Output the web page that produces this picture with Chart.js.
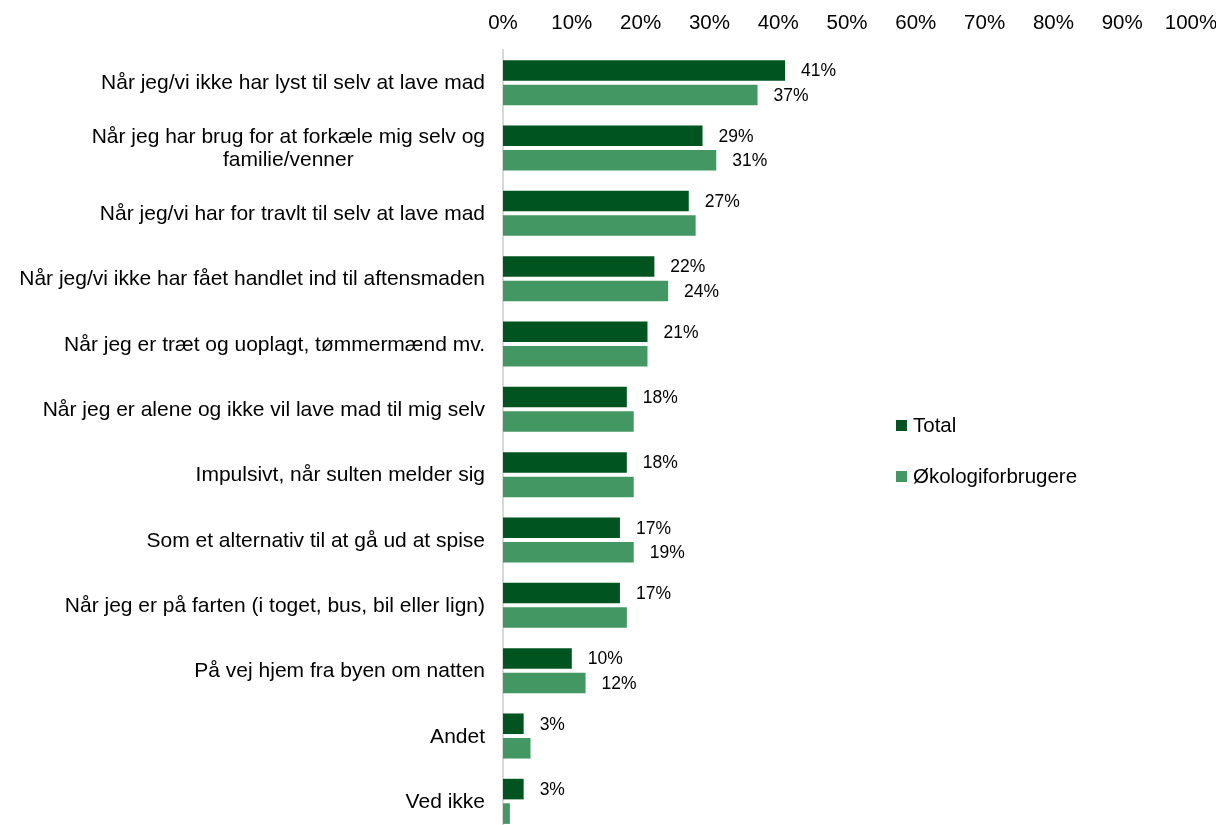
<!DOCTYPE html>
<html>
<head>
<meta charset="utf-8">
<script src="https://cdn.jsdelivr.net/npm/chart.js@4/dist/chart.umd.min.js"></script>
<style>
  html, body { margin: 0; padding: 0; background: #fff; overflow: hidden; }
  #wrap { position: relative; width: 1216px; height: 850px; }
</style>
</head>
<body>
<div id="wrap"><canvas id="takeawayChart"></canvas></div>
<script>
const categories = [
  'Når jeg/vi ikke har lyst til selv at lave mad',
  ['Når jeg har brug for at forkæle mig selv og', 'familie/venner'],
  'Når jeg/vi har for travlt til selv at lave mad',
  'Når jeg/vi ikke har fået handlet ind til aftensmaden',
  'Når jeg er træt og uoplagt, tømmermænd mv.',
  'Når jeg er alene og ikke vil lave mad til mig selv',
  'Impulsivt, når sulten melder sig',
  'Som et alternativ til at gå ud at spise',
  'Når jeg er på farten (i toget, bus, bil eller lign)',
  'På vej hjem fra byen om natten',
  'Andet',
  'Ved ikke'
];
const seriesNames = ['Total', 'Økologiforbrugere'];
const totalValues = [41, 29, 27, 22, 21, 18, 18, 17, 17, 10, 3, 3];
const okoValues = [37, 31, 28, 24, 21, 19, 19, 19, 18, 12, 4, 1];
// which bars carry a value label
const totalShowLabel = [true, true, true, true, true, true, true, true, true, true, true, true];
const okoShowLabel = [true, true, false, true, false, false, false, true, false, true, false, false];
const xMin = 0, xMax = 100, xStep = 10;

const FONT = '"Liberation Sans", Arial, sans-serif';
const TEXT = '#000000';

// value labels to the right of each bar
const valueLabels = {
  id: 'valueLabels',
  afterDatasetsDraw(chart) {
    const ctx = chart.ctx;
    ctx.save();
    ctx.font = '17.5px ' + FONT;
    ctx.fillStyle = TEXT;
    ctx.textAlign = 'left';
    ctx.textBaseline = 'middle';
    chart.data.datasets.forEach((ds, di) => {
      const meta = chart.getDatasetMeta(di);
      meta.data.forEach((bar, i) => {
        if (!ds.showLabel[i]) return;
        ctx.fillText(ds.data[i] + '%', bar.x + 16, bar.y + 1);
      });
    });
    ctx.restore();
  }
};

// category labels: block right aligned, wrapped lines centred inside it
const categoryLabels = {
  id: 'categoryLabels',
  afterDraw(chart) {
    const ctx = chart.ctx;
    const y = chart.scales.y;
    ctx.save();
    ctx.font = '21px ' + FONT;
    ctx.fillStyle = TEXT;
    ctx.textBaseline = 'middle';
    const right = y.right - 18;
    const lh = 23;
    chart.data.labels.forEach((lbl, i) => {
      const lines = Array.isArray(lbl) ? lbl : [lbl];
      const py = y.getPixelForTick(i) + 1;
      const widest = Math.max(...lines.map(l => ctx.measureText(l).width));
      ctx.textAlign = lines.length > 1 ? 'center' : 'right';
      const x = lines.length > 1 ? right - widest / 2 : right;
      const top = py - (lines.length - 1) * lh / 2;
      lines.forEach((l, k) => ctx.fillText(l, x, top + k * lh));
    });
    ctx.restore();
  }
};

// legend on the right, stacked vertically
const sideLegend = {
  id: 'sideLegend',
  afterDraw(chart) {
    const ctx = chart.ctx;
    ctx.save();
    ctx.font = '20.5px ' + FONT;
    ctx.textBaseline = 'middle';
    ctx.textAlign = 'left';
    const x = 896, y0 = 425, gap = 51;
    chart.data.datasets.forEach((ds, i) => {
      const y = y0 + i * gap;
      ctx.fillStyle = ds.backgroundColor;
      ctx.fillRect(x, y - 5, 11, 11);
      ctx.fillStyle = TEXT;
      ctx.fillText(ds.label, x + 17, y + 1);
    });
    ctx.restore();
  }
};

new Chart(document.getElementById('takeawayChart'), {
  type: 'bar',
  data: {
    labels: categories,
    datasets: [
      {
        label: seriesNames[0],
        data: totalValues,
        showLabel: totalShowLabel,
        backgroundColor: '#00541f',
        categoryPercentage: 0.75,
        barPercentage: 0.84
      },
      {
        label: seriesNames[1],
        data: okoValues,
        showLabel: okoShowLabel,
        backgroundColor: '#439763',
        categoryPercentage: 0.75,
        barPercentage: 0.84
      }
    ]
  },
  options: {
    indexAxis: 'y',
    responsive: true,
    maintainAspectRatio: false,
    animation: false,
    layout: { padding: { left: 0, right: 0, top: 0, bottom: 16 } },
    plugins: { legend: { display: false }, tooltip: { enabled: false } },
    scales: {
      x: {
        position: 'top',
        min: xMin,
        max: xMax,
        grid: { display: false },
        border: { display: false },
        ticks: {
          stepSize: xStep,
          padding: 6,
          color: TEXT,
          font: { family: FONT, size: 20.5 },
          maxRotation: 0,
          callback: v => v + '%'
        },
        afterFit: s => { s.height = 50; s.paddingRight = 25; s.paddingLeft = 0; }
      },
      y: {
        grid: { display: false },
        border: { display: true, color: '#d9d9d9', width: 2 },
        ticks: { display: false },
        afterFit: s => { s.width = 503; }
      }
    }
  },
  plugins: [valueLabels, categoryLabels, sideLegend]
});
</script>
</body>
</html>
